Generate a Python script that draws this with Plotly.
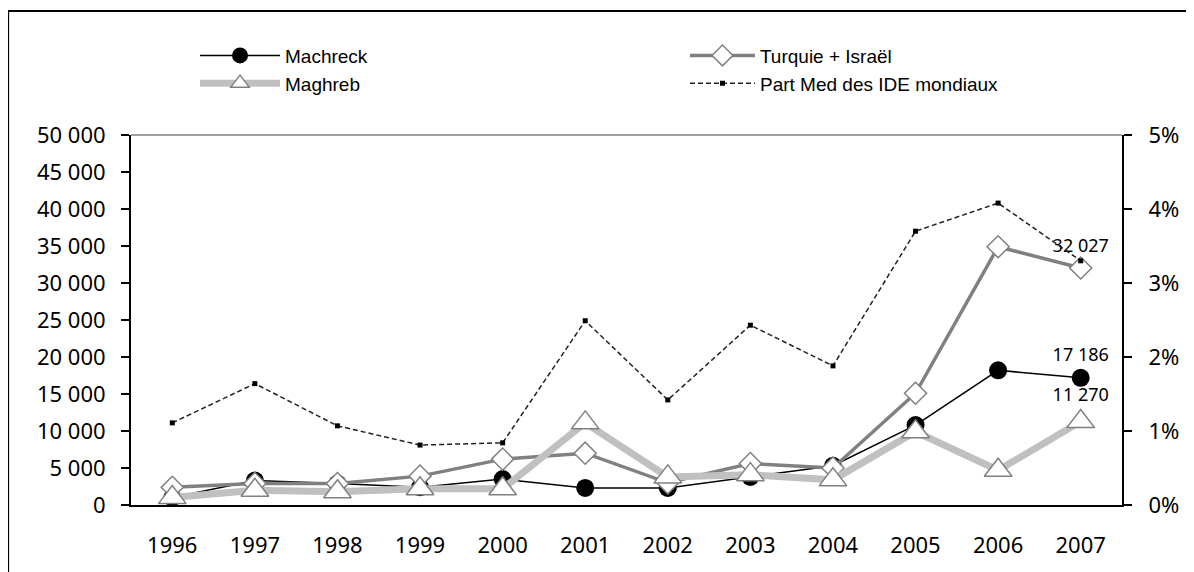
import plotly.graph_objects as go

years = ["1996", "1997", "1998", "1999", "2000", "2001", "2002", "2003", "2004", "2005", "2006", "2007"]
machreck = [1000, 3300, 2900, 2400, 3500, 2300, 2300, 3800, 5300, 10800, 18200, 17186]
turquie_israel = [2400, 2900, 2900, 3900, 6200, 7000, 3000, 5600, 5000, 15100, 34900, 32027]
maghreb = [1000, 2000, 1800, 2200, 2200, 11100, 3800, 4100, 3400, 9900, 4700, 11270]
part_med = [1.11, 1.64, 1.07, 0.81, 0.84, 2.49, 1.42, 2.43, 1.88, 3.70, 4.08, 3.30]

y_ticks = list(range(0, 50001, 5000))
y_ticklabels = [f"{v:,}".replace(",", " ") for v in y_ticks]
y2_ticks = [0, 1, 2, 3, 4, 5]
y2_ticklabels = [f"{v}%" for v in y2_ticks]


def last_label(vals):
    return [""] * (len(vals) - 1) + [f"{vals[-1]:,}".replace(",", " ")]


tick_font = dict(family="Noto Sans, Open Sans, sans-serif", size=22, color="#000000")
label_font = dict(family="Noto Sans, Open Sans, sans-serif", size=18, color="#000000")
legend_font = dict(family="Liberation Sans, Arial, sans-serif", size=19, color="#000000")

fig = go.Figure()

fig.add_trace(go.Scatter(
    x=years, y=machreck, name="Machreck", mode="lines+markers+text", legend="legend",
    line=dict(color="#000000", width=1.5),
    marker=dict(symbol="circle", size=18, color="#000000"),
    text=last_label(machreck), textposition="top center", textfont=label_font,
    cliponaxis=False,
))
fig.add_trace(go.Scatter(
    x=years, y=turquie_israel, name="Turquie + Israël", mode="lines+markers+text", legend="legend2",
    line=dict(color="#808080", width=3.5),
    marker=dict(symbol="diamond", size=17, color="#FFFFFF", line=dict(color="#808080", width=1.5)),
    text=last_label(turquie_israel), textposition="top center", textfont=label_font,
    cliponaxis=False,
))
fig.add_trace(go.Scatter(
    x=years, y=maghreb, name="Maghreb", mode="lines+markers+text", legend="legend",
    line=dict(color="#C0C0C0", width=7),
    marker=dict(symbol="triangle-up", size=24, color="#FFFFFF", line=dict(color="#808080", width=1.5)),
    text=last_label(maghreb), textposition="top center", textfont=label_font,
    cliponaxis=False,
))
fig.add_trace(go.Scatter(
    x=years, y=part_med, name="Part Med des IDE mondiaux", mode="lines+markers", legend="legend2",
    yaxis="y2",
    line=dict(color="#222222", width=1.5, dash="5px,3px"),
    marker=dict(symbol="square", size=5, color="#000000"),
    cliponaxis=False,
))

fig.update_layout(
    width=1186, height=564,
    margin=dict(l=123, r=72, t=127, b=67, autoexpand=False),
    paper_bgcolor="#FFFFFF", plot_bgcolor="#FFFFFF",
    showlegend=True,
    legend=dict(
        orientation="v", x=0.0646, y=1.266, xanchor="left", yanchor="top",
        font=legend_font, bgcolor="rgba(0,0,0,0)", itemwidth=80, tracegroupgap=0,
    ),
    legend2=dict(
        orientation="v", x=0.559, y=1.266, xanchor="left", yanchor="top",
        font=legend_font, bgcolor="rgba(0,0,0,0)", itemwidth=65, tracegroupgap=0,
    ),
    xaxis=dict(
        type="category", range=[-0.5, 11.5],
        showline=True, linecolor="#000000", linewidth=2,
        ticks="", showgrid=False, zeroline=False,
        tickfont=tick_font, ticklabelstandoff=20,
    ),
    yaxis=dict(
        range=[0, 50000], tickvals=y_ticks, ticktext=y_ticklabels,
        showline=True, linecolor="#000000", linewidth=2,
        ticks="outside", ticklen=8, tickwidth=2, tickcolor="#000000",
        showgrid=False, zeroline=False, tickfont=tick_font, ticklabelstandoff=11,
    ),
    yaxis2=dict(
        overlaying="y", side="right", range=[0, 5],
        tickvals=y2_ticks, ticktext=y2_ticklabels,
        showline=True, linecolor="#000000", linewidth=2,
        ticks="outside", ticklen=8, tickwidth=2, tickcolor="#000000",
        showgrid=False, zeroline=False, tickfont=tick_font, ticklabelstandoff=12,
    ),
    shapes=[
        dict(type="line", xref="paper", yref="paper", x0=0, x1=1, y0=1, y1=1,
             line=dict(color="#A0A0A0", width=2)),
        dict(type="rect", xref="paper", yref="paper", x0=-0.124, x1=1.08, y0=-0.25, y1=1.335,
             line=dict(color="#000000", width=2), fillcolor="rgba(0,0,0,0)", layer="below"),
    ],
)

fig.write_html("out.html")
